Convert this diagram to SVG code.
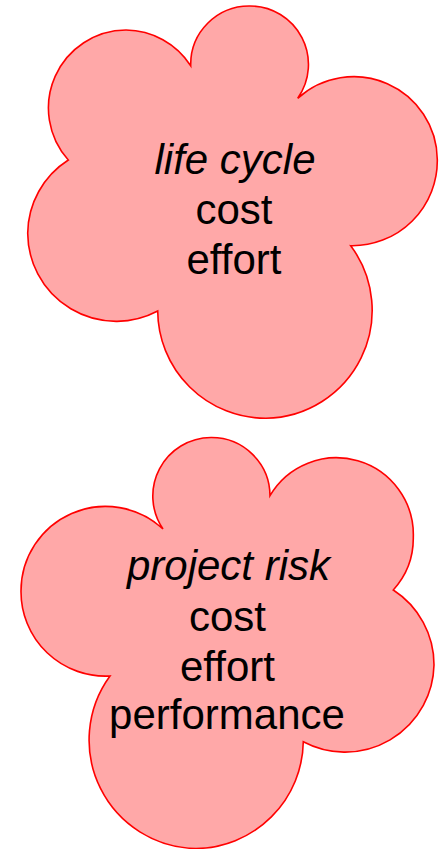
<svg xmlns="http://www.w3.org/2000/svg" width="445" height="849" viewBox="0 0 445 849">
<style>
.cloud{fill:#FFA8A8;stroke:#FF0000;stroke-width:1.6;stroke-linejoin:miter}
.t{font-family:"Liberation Sans",Arial,sans-serif;font-size:42px;fill:#000;text-anchor:middle}
.i{font-style:italic}
</style>
<rect width="445" height="849" fill="#FFFFFF"/>
<g id="cloud-life-cycle">
<path class="cloud" d="M 190.7 65.7 A 58.5 58.5 0 0 1 250 6 A 58.5 58.5 0 0 1 297.7 98.3 A 83.5 83.5 0 0 1 437.3 159.5 A 85 85 0 0 1 350.7 245.7 A 108 108 0 0 1 266 418.3 A 108 108 0 0 1 157.7 311 A 88.5 88.5 0 0 1 27.7 233.3 A 88 88 0 0 1 68.3 160 A 78 78 0 0 1 126 30 A 78 78 0 0 1 190.7 65.7 Z"/>
<text class="t i" x="235" y="173.5">life cycle</text>
<text class="t" x="234" y="224">cost</text>
<text class="t" x="234" y="273.5">effort</text>
</g>
<g id="cloud-project-risk">
<path class="cloud" d="M 163 529 A 58.5 58.5 0 0 1 211 437.5 A 58.5 58.5 0 0 1 270 495.7 A 77 77 0 0 1 413.3 537.3 A 77 77 0 0 1 393.3 590 A 89 89 0 0 1 434 665 A 89 89 0 0 1 303.3 741.7 A 108.5 108.5 0 0 1 196 848.5 A 108.5 108.5 0 0 1 110 676 A 84.5 84.5 0 0 1 21 591 A 84.5 84.5 0 0 1 163 529 Z"/>
<text class="t i" x="228.5" y="580">project risk</text>
<text class="t" x="227.5" y="630.5">cost</text>
<text class="t" x="227.5" y="680.5">effort</text>
<text class="t" x="227" y="729">performance</text>
</g>
<g id="connectors"/>
</svg>
